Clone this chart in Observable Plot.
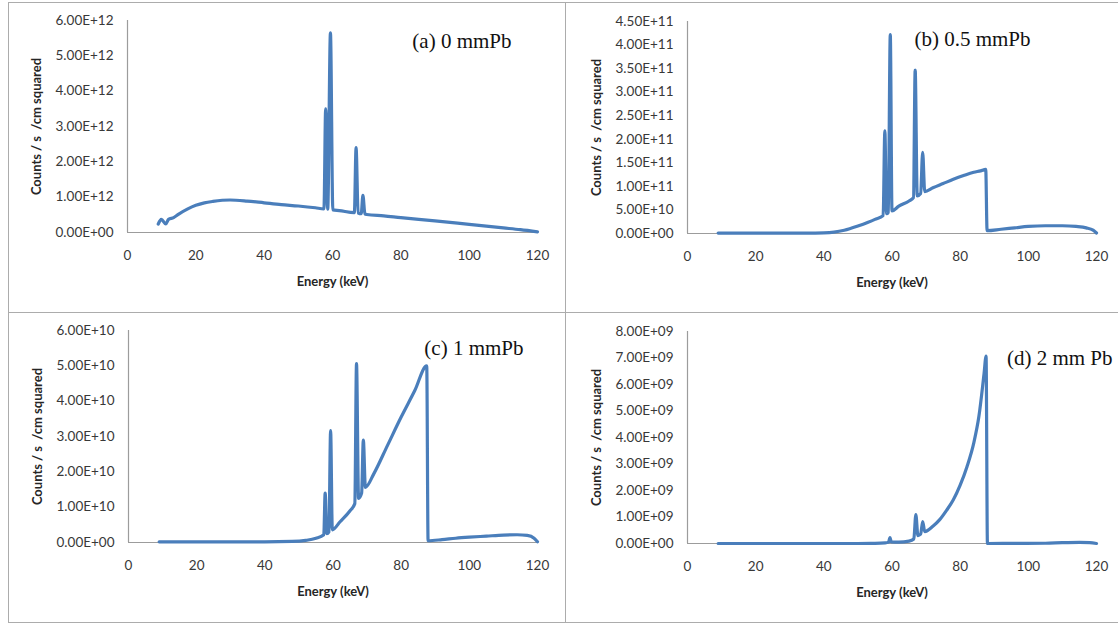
<!DOCTYPE html>
<html><head><meta charset="utf-8">
<script src="https://cdn.jsdelivr.net/npm/d3@7"></script>
<script src="https://cdn.jsdelivr.net/npm/@observablehq/plot@0.6"></script>
<style>
body{margin:0;background:#fff;}
#wrap{position:relative;width:1118px;height:623px;overflow:hidden;background:#fff;}
.panel{position:absolute;box-sizing:border-box;border:1px solid #acacac;}
.chart{position:absolute;}
</style></head><body><div id="wrap"></div>
<script>
// ---- data ----
const titles = ["(a) 0 mmPb", "(b) 0.5 mmPb", "(c) 1 mmPb", "(d) 2 mm Pb"];
const xLabel = "Energy (keV)";
const yLabel = "Counts / s  /cm squared";
const xTicks = [0, 20, 40, 60, 80, 100, 120];

const energyA = [9, 9.9, 11.2, 12, 13.5, 15, 17.5, 20, 22.5, 25, 30, 35, 40, 45, 50, 55, 57.5, 58.0, 58.6, 59.4, 60.1, 62, 66.4, 66.9, 67.5, 68.4, 68.9, 69.5, 70, 75, 80, 90, 100, 110, 115, 120];
const countsA = [0.24e12, 0.37e12, 0.24e12, 0.37e12, 0.42e12, 0.52e12, 0.66e12, 0.77e12, 0.84e12, 0.88e12, 0.92e12, 0.89e12, 0.84e12, 0.79e12, 0.75e12, 0.70e12, 0.67e12, 3.5e12, 0.66e12, 5.65e12, 0.64e12, 0.62e12, 0.56e12, 2.4e12, 0.55e12, 0.53e12, 1.05e12, 0.52e12, 0.51e12, 0.47e12, 0.42e12, 0.33e12, 0.23e12, 0.13e12, 0.08e12, 0.02e12];
const yTicksA = [0, 1e12, 2e12, 3e12, 4e12, 5e12, 6e12];

const energyB = [9, 20, 35, 40, 43, 46, 50, 53, 55, 57.4, 57.9, 58.4, 58.9, 59.5, 60.0, 62, 65, 66.3, 66.8, 67.4, 68.4, 69.0, 69.6, 72, 75, 78, 81, 84, 86, 87.5, 87.9, 92, 96, 100, 105, 110, 114, 117, 119, 120];
const countsB = [0.01e11, 0.01e11, 0.01e11, 0.015e11, 0.03e11, 0.07e11, 0.16e11, 0.24e11, 0.30e11, 0.38e11, 2.18e11, 0.42e11, 0.45e11, 4.22e11, 0.48e11, 0.58e11, 0.69e11, 0.76e11, 3.47e11, 0.80e11, 0.85e11, 1.72e11, 0.89e11, 0.97e11, 1.06e11, 1.15e11, 1.23e11, 1.30e11, 1.33e11, 1.36e11, 0.06e11, 0.09e11, 0.12e11, 0.15e11, 0.165e11, 0.165e11, 0.15e11, 0.12e11, 0.07e11, 0.01e11];
const yTicksB = [0, 0.5e11, 1e11, 1.5e11, 2e11, 2.5e11, 3e11, 3.5e11, 4e11, 4.5e11];

const energyC = [9, 20, 40, 48, 52, 55, 57.3, 57.7, 58.2, 58.8, 59.3, 59.8, 62, 65, 66.4, 66.9, 67.5, 68.4, 68.9, 69.5, 72, 76, 80, 84, 87.5, 87.9, 92, 96, 100, 105, 110, 114, 117, 119, 120];
const countsC = [0.02e10, 0.02e10, 0.02e10, 0.03e10, 0.06e10, 0.12e10, 0.22e10, 1.40e10, 0.25e10, 0.30e10, 3.17e10, 0.36e10, 0.58e10, 0.90e10, 1.10e10, 5.06e10, 1.25e10, 1.40e10, 2.90e10, 1.56e10, 1.95e10, 2.75e10, 3.55e10, 4.30e10, 5.00e10, 0.05e10, 0.08e10, 0.12e10, 0.15e10, 0.18e10, 0.21e10, 0.22e10, 0.20e10, 0.12e10, 0.02e10];
const yTicksC = [0, 1e10, 2e10, 3e10, 4e10, 5e10, 6e10];

const energyD = [9, 20, 40, 50, 55, 58, 59.0, 59.4, 59.8, 62, 65, 66.4, 67.0, 67.6, 68.4, 69.0, 69.6, 72, 74, 76, 78, 80, 82, 84, 85.5, 87, 87.6, 88.0, 95, 105, 110, 115, 118, 120];
const countsD = [0, 0, 0, 0, 0.005e9, 0.02e9, 0.05e9, 0.22e9, 0.06e9, 0.05e9, 0.09e9, 0.17e9, 1.09e9, 0.30e9, 0.35e9, 0.83e9, 0.45e9, 0.65e9, 0.90e9, 1.25e9, 1.65e9, 2.20e9, 2.90e9, 3.80e9, 4.80e9, 6.40e9, 7.07e9, 0, 0.005e9, 0.01e9, 0.03e9, 0.04e9, 0.03e9, 0];
const yTicksD = [0, 1e9, 2e9, 3e9, 4e9, 5e9, 6e9, 7e9, 8e9];

// ---- layout (pixels) ----
const panels = [
  {energy: energyA, counts: countsA, ticks: yTicksA, box: {left: 8, top: 2, width: 558, height: 311}, svg: {left: 8, top: 2, width: 557, height: 310, ml: 119, mr: 28, mt: 18, mb: 80}, tdx: -26, tdy: 13},
  {energy: energyB, counts: countsB, ticks: yTicksB, box: {left: 565, top: 2, width: 560, height: 311}, svg: {left: 565, top: 2, width: 553, height: 310, ml: 122, mr: 22, mt: 19, mb: 79}, tdx: -66, tdy: 10},
  {energy: energyC, counts: countsC, ticks: yTicksC, box: {left: 8, top: 312, width: 558, height: 311}, svg: {left: 8, top: 312, width: 557, height: 310, ml: 120, mr: 28, mt: 18, mb: 80}, tdx: -14, tdy: 10},
  {energy: energyD, counts: countsD, ticks: yTicksD, box: {left: 565, top: 312, width: 560, height: 311}, svg: {left: 565, top: 312, width: 553, height: 310, ml: 122, mr: 22, mt: 19, mb: 79}, tdx: 16, tdy: 19}
];

function sci(d) {
  if (d === 0) return "0.00E+00";
  const [m, e] = d.toExponential(2).split("e");
  const n = +e;
  return m + "E" + (n < 0 ? "-" : "+") + String(Math.abs(n)).padStart(2, "0");
}

const wrap = document.getElementById("wrap");
panels.forEach((p, i) => {
  const box = document.createElement("div");
  box.className = "panel";
  Object.assign(box.style, {left: p.box.left + "px", top: p.box.top + "px", width: p.box.width + "px", height: p.box.height + "px"});
  wrap.appendChild(box);

  const rows = p.energy.map((e, k) => ({e, c: p.counts[k]}));
  const s = p.svg;
  const chart = Plot.plot({
    width: s.width, height: s.height,
    marginLeft: s.ml, marginRight: s.mr, marginTop: s.mt, marginBottom: s.mb,
    style: {fontFamily: "Lato, sans-serif", fontSize: "13.5px", color: "#383838", background: "transparent"},
    x: {domain: [0, 120]},
    y: {domain: [0, p.ticks[p.ticks.length - 1]]},
    marks: [
      Plot.axisX(xTicks, {tickSize: 0, tickPadding: 18, label: null}),
      Plot.axisY(p.ticks, {tickSize: 0, tickPadding: 14, tickFormat: sci, label: null}),
      Plot.ruleX([0], {stroke: "#9c9c9c", strokeWidth: 1.2}),
      Plot.ruleY([0], {stroke: "#9c9c9c", strokeWidth: 1.2}),
      Plot.line(rows, {x: "e", y: "c", stroke: "#4a7ebb", strokeWidth: 3.2, curve: "monotone-x", strokeLinejoin: "round"}),
      Plot.text([yLabel], {text: d => d, frameAnchor: "left", textAnchor: "middle", dx: -91, rotate: -90, fontWeight: "bold", fontSize: 13, fill: "#262626"}),
      Plot.text([xLabel], {text: d => d, frameAnchor: "bottom", textAnchor: "middle", dy: 53, fontWeight: "bold", fontSize: 13, fill: "#262626"}),
      Plot.text([titles[i]], {text: d => d, frameAnchor: "top-right", textAnchor: "end", dx: p.tdx, dy: p.tdy, fontFamily: "Liberation Serif, serif", fontSize: 21, fill: "#111"})
    ]
  });
  chart.classList.add("chart");
  Object.assign(chart.style, {left: s.left + "px", top: s.top + "px", position: "absolute", maxWidth: "none"});
  wrap.appendChild(chart);
});
</script></body></html>
